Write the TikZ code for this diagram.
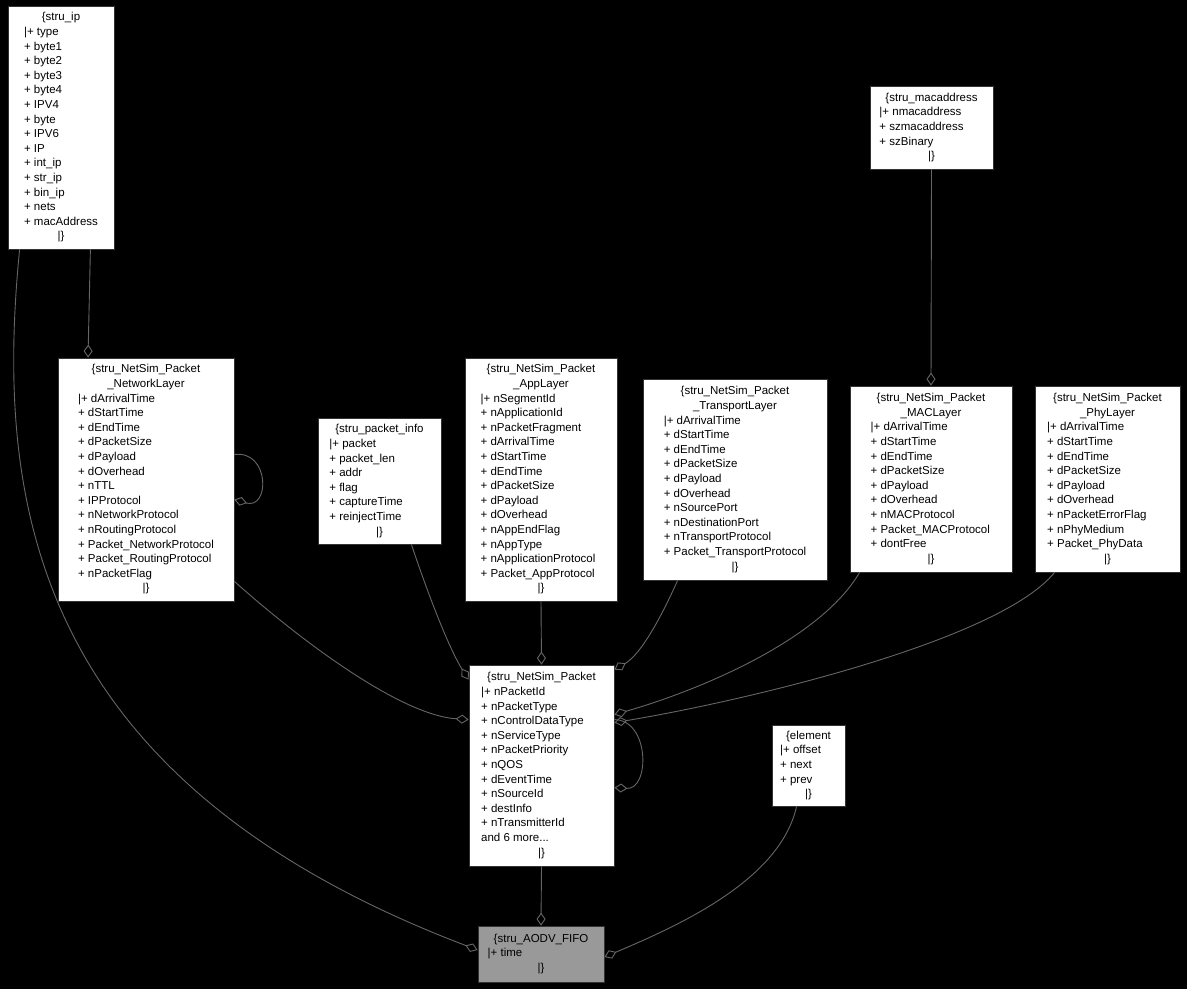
\documentclass[tikz,border=0pt]{standalone}
\usepackage{fontspec}
\setmainfont{Liberation Sans}
\usetikzlibrary{arrows.meta}
\tikzset{
 box/.style={draw=black!80, fill=white, line width=0.8pt, inner sep=0pt, font=\fontsize{11.5}{14.6}\selectfont, align=left},
 link/.style={draw=black!60!white, line width=0.9pt, -{Diamond[length=13pt,width=9pt,fill=black]}},
}
\newcommand{\ttl}[1]{\multicolumn{1}{c}{#1}}
\begin{document}
\begin{tikzpicture}[x=1pt,y=-1pt]
\fill[black] (0,0) rectangle (1187,989);
\useasboundingbox (0,0) rectangle (1187,989);
\def\B#1#2#3#4#5#6{\node[box,minimum width=#3,minimum height=#4,fill=#6] (#5) at ({#1+#3/2},{#2+#4/2})}
\renewcommand{\arraystretch}{1}
\B{8}{6}{106}{243}{ip}{white} {\begin{tabular}{@{}l@{}}\ttl{\{stru\_ip}\\|+ type\\+ byte1\\+ byte2\\+ byte3\\+ byte4\\+ IPV4\\+ byte\\+ IPV6\\+ IP\\+ int\_ip\\+ str\_ip\\+ bin\_ip\\+ nets\\+ macAddress\\\ttl{|\}}\end{tabular}};
\B{870}{86}{123}{83}{mac}{white} {\begin{tabular}{@{}l@{}}\ttl{\{stru\_macaddress}\\|+ nmacaddress\\+ szmacaddress\\+ szBinary\\\ttl{|\}}\end{tabular}};
\B{58}{358}{176}{243}{net}{white} {\begin{tabular}{@{}l@{}}\ttl{\{stru\_NetSim\_Packet}\\\ttl{\_NetworkLayer}\\|+ dArrivalTime\\+ dStartTime\\+ dEndTime\\+ dPacketSize\\+ dPayload\\+ dOverhead\\+ nTTL\\+ IPProtocol\\+ nNetworkProtocol\\+ nRoutingProtocol\\+ Packet\_NetworkProtocol\\+ Packet\_RoutingProtocol\\+ nPacketFlag\\\ttl{|\}}\end{tabular}};
\B{318}{418}{123}{126}{pinfo}{white} {\begin{tabular}{@{}l@{}}\ttl{\{stru\_packet\_info}\\|+ packet\\+ packet\_len\\+ addr\\+ flag\\+ captureTime\\+ reinjectTime\\\ttl{|\}}\end{tabular}};
\B{465}{358}{152}{243}{app}{white} {\begin{tabular}{@{}l@{}}\ttl{\{stru\_NetSim\_Packet}\\\ttl{\_AppLayer}\\|+ nSegmentId\\+ nApplicationId\\+ nPacketFragment\\+ dArrivalTime\\+ dStartTime\\+ dEndTime\\+ dPacketSize\\+ dPayload\\+ dOverhead\\+ nAppEndFlag\\+ nAppType\\+ nApplicationProtocol\\+ Packet\_AppProtocol\\\ttl{|\}}\end{tabular}};
\B{643}{379}{184}{201}{trans}{white} {\begin{tabular}{@{}l@{}}\ttl{\{stru\_NetSim\_Packet}\\\ttl{\_TransportLayer}\\|+ dArrivalTime\\+ dStartTime\\+ dEndTime\\+ dPacketSize\\+ dPayload\\+ dOverhead\\+ nSourcePort\\+ nDestinationPort\\+ nTransportProtocol\\+ Packet\_TransportProtocol\\\ttl{|\}}\end{tabular}};
\B{850}{386}{162}{186}{macl}{white} {\begin{tabular}{@{}l@{}}\ttl{\{stru\_NetSim\_Packet}\\\ttl{\_MACLayer}\\|+ dArrivalTime\\+ dStartTime\\+ dEndTime\\+ dPacketSize\\+ dPayload\\+ dOverhead\\+ nMACProtocol\\+ Packet\_MACProtocol\\+ dontFree\\\ttl{|\}}\end{tabular}};
\B{1035}{386}{145}{186}{phy}{white} {\begin{tabular}{@{}l@{}}\ttl{\{stru\_NetSim\_Packet}\\\ttl{\_PhyLayer}\\|+ dArrivalTime\\+ dStartTime\\+ dEndTime\\+ dPacketSize\\+ dPayload\\+ dOverhead\\+ nPacketErrorFlag\\+ nPhyMedium\\+ Packet\_PhyData\\\ttl{|\}}\end{tabular}};
\B{469}{665}{145}{201}{pkt}{white} {\begin{tabular}{@{}l@{}}\ttl{\{stru\_NetSim\_Packet}\\|+ nPacketId\\+ nPacketType\\+ nControlDataType\\+ nServiceType\\+ nPacketPriority\\+ nQOS\\+ dEventTime\\+ nSourceId\\+ destInfo\\+ nTransmitterId\\and 6 more...\\\ttl{|\}}\end{tabular}};
\B{772}{725}{73}{81}{elem}{white} {\begin{tabular}{@{}l@{}}\ttl{\{element}\\|+ offset\\+ next\\+ prev\\\ttl{|\}}\end{tabular}};
\B{478}{926}{126}{56}{fifo}{black!40} {\begin{tabular}{@{}l@{}}\ttl{\{stru\_AODV\_FIFO}\\|+ time\\\ttl{|\}}\end{tabular}};
% links
\draw[link] ([xshift=12pt]ip.south west) .. controls (-5,500) and (30,780) .. ([yshift=4pt]fifo.west);
\draw[link] ([xshift=-24pt]ip.south east) -- ([xshift=-58pt]net.north);
\draw[link] (mac.south) -- (macl.north);
\draw[link] ([yshift=25pt]net.east) .. controls (270,450) and (270,510) .. ([yshift=-20pt]net.east);
\draw[link] ([yshift=20pt]net.south east) .. controls (300,640) and (400,715) .. ([yshift=-55pt]pkt.north west);
\draw[link] ([xshift=-30pt]pinfo.south east) .. controls (430,600) and (450,650) .. ([yshift=-15pt]pkt.north west);
\draw[link] (app.south) -- (pkt.north);
\draw[link] ([xshift=35pt]trans.south west) .. controls (660,620) and (640,655) .. ([yshift=-5pt]pkt.north east);
\draw[link] ([xshift=10pt]macl.south west) .. controls (820,640) and (700,690) .. ([yshift=-50pt]pkt.north east);
\draw[link] ([xshift=20pt]phy.south west) .. controls (1000,640) and (750,700) .. ([yshift=-58pt]pkt.north east);
\draw[link] ([yshift=-55pt]pkt.north east) .. controls (650,720) and (650,790) .. ([yshift=-123pt]pkt.north east);
\draw[link] (pkt.south) -- (fifo.north);
\draw[link] ([xshift=25pt]elem.south west) .. controls (780,880) and (680,925) .. ([yshift=-3pt]fifo.east);
\end{tikzpicture}
\end{document}
